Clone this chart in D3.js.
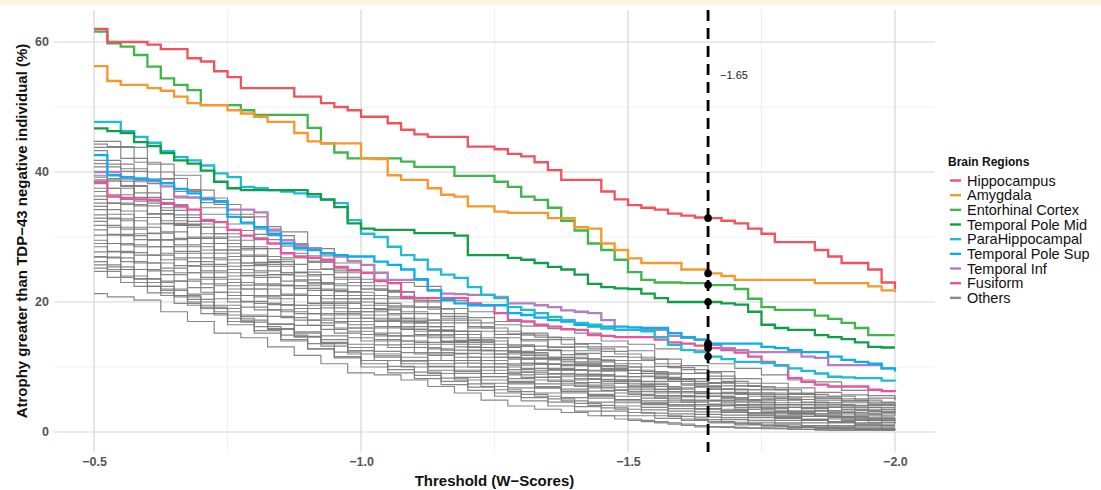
<!DOCTYPE html>
<html>
<head>
<meta charset="utf-8">
<script src="https://cdn.jsdelivr.net/npm/d3@7"></script>
<style>
  body { margin: 0; background: #fff; }
  svg { display: block; font-family: "Liberation Sans", Arial, sans-serif; }
</style>
</head>
<body>
<script>
// Threshold grid (W-scores) for the named regions
const thresholds = [
  -0.5, -0.525, -0.55, -0.575, -0.6, -0.625, -0.65, -0.675, -0.7, -0.725,
  -0.75, -0.775, -0.8, -0.825, -0.85, -0.875, -0.9, -0.925, -0.95, -0.975,
  -1.0, -1.025, -1.05, -1.075, -1.1, -1.125, -1.15, -1.175, -1.2, -1.225,
  -1.25, -1.275, -1.3, -1.325, -1.35, -1.375, -1.4, -1.425, -1.45, -1.475,
  -1.5, -1.525, -1.55, -1.575, -1.6, -1.625, -1.65, -1.675, -1.7, -1.725,
  -1.75, -1.775, -1.8, -1.825, -1.85, -1.875, -1.9, -1.925, -1.95, -1.975, -2.0
];

// Atrophy (%) per region at each threshold
const hippocampus = [62, 60, 60, 60, 59.6, 58.9, 58.9, 57.5, 57, 55.5, 54.6, 52.9, 52.9, 52.9, 52.9, 51.6, 51.6, 50.6, 50, 49.5, 48.5, 48.5, 47.5, 46.5, 45.8, 45.4, 45.4, 45.4, 43.9, 43.9, 43.5, 42.8, 42.4, 41.5, 40.3, 38.8, 38.8, 38.8, 37, 35.8, 34.9, 34.5, 34.2, 33.6, 33.3, 33, 32.9, 32.5, 32.1, 31.3, 30.5, 29.2, 29.2, 29.2, 28, 27, 26, 26, 25, 23, 22];
const amygdala = [56.3, 54, 53.4, 53.4, 52.9, 52.5, 51.6, 50.6, 50.3, 50.3, 49.5, 49, 48.5, 47.7, 47.7, 46, 44.7, 44.4, 44.4, 44.4, 42.1, 42, 39.5, 38.8, 38.8, 37.5, 36.5, 36.2, 34.7, 34.7, 33.9, 33.7, 33.7, 33.7, 32.9, 32.9, 31.5, 31.3, 29, 28, 26.7, 26, 26, 26, 25, 25, 24.4, 24, 23.4, 23.4, 23.4, 23.4, 23.4, 23.4, 22.9, 22.9, 22.9, 22.9, 22.4, 21.8, 21.5];
const entorhinal = [61.6, 59.8, 59.3, 58, 56.2, 54.4, 53.4, 52.6, 50.3, 50.3, 50.3, 49.5, 48.8, 48.8, 48.8, 48.8, 46.8, 44.4, 43, 42.1, 42.1, 42.1, 42.1, 41.6, 40.8, 40.8, 40.8, 39.4, 39.4, 39.4, 38.5, 37.7, 36.2, 35.7, 34.5, 32.5, 31, 29, 28, 26.5, 24.6, 23.4, 23, 23, 22.9, 22.9, 22.6, 22.6, 22, 20.5, 19.2, 18.8, 18.8, 18.8, 17.9, 17.4, 16.8, 16, 14.9, 14.9, 14.9];
const temporalPoleMid = [46.7, 46.3, 46, 44.6, 44, 42.9, 41.8, 41.3, 40.2, 38.5, 37.5, 37.2, 37.2, 37.2, 37.2, 37.2, 36.6, 35.8, 34.6, 32.1, 31.3, 31.1, 31.1, 31.1, 30.6, 30.6, 30.6, 30.2, 27.2, 27.2, 27.2, 26.8, 26.5, 26, 25.4, 25, 24.2, 22.8, 22.3, 22.1, 22, 21.3, 20.6, 20, 20, 20, 20, 19.8, 19.6, 18.5, 16.5, 16, 15.7, 15.7, 14.9, 14.6, 14.3, 13.8, 13.1, 13, 13];
const paraHippocampal = [47.7, 47.7, 46.3, 45.4, 44.5, 43.2, 42.3, 41.8, 41, 39.8, 39.2, 37.7, 37.5, 37.2, 37, 36.7, 36.2, 35.7, 35.2, 32.6, 30.5, 30, 28.5, 27.2, 26.5, 25, 24.2, 23.7, 22.3, 21.1, 20.6, 19.2, 18.8, 18.3, 17.7, 17.2, 16.8, 16.5, 15.9, 15.7, 15.7, 15.5, 14.6, 13.4, 12.6, 12.3, 11.6, 11.2, 10.8, 10.8, 10.6, 10.2, 9.8, 9.4, 9, 8.5, 8.4, 8.3, 8.3, 7.9, 7.8];
const temporalPoleSup = [42.6, 39.5, 39.2, 39, 38.8, 38.3, 37.4, 36.7, 35.8, 35.5, 33.1, 32.2, 31.5, 30.5, 29, 28.3, 28, 27.5, 27.2, 27, 27, 26.2, 25.7, 25, 23.5, 21.8, 20.3, 19.8, 19.5, 19.5, 19.5, 18.3, 18, 17.6, 17.2, 17, 16.5, 16.2, 16.2, 16.2, 16.1, 16, 16, 15.2, 14.6, 14.2, 13.6, 13.6, 13.6, 13.6, 13.1, 12.9, 12.6, 12.3, 12.3, 11.6, 11.1, 10.8, 10.5, 9.8, 9.3];
const temporalInf = [40, 40, 39, 38.8, 38.6, 37.8, 36.2, 36.1, 36, 35.4, 34.2, 34.2, 33.8, 31, 29.5, 28.8, 28.3, 27.5, 27, 26.3, 25.7, 24.5, 23.4, 23.4, 23.4, 21.8, 21.3, 21.2, 21.1, 21.1, 20.8, 19.8, 19.8, 19.5, 19.2, 18.7, 18.5, 18.3, 17.2, 15.7, 15.7, 15.7, 15.7, 14.8, 14.5, 14.2, 13.4, 12.9, 12.6, 12.3, 12.3, 12.3, 12.3, 11.6, 11.4, 10.3, 10.3, 10.3, 10.3, 9.8, 9.8];
const fusiform = [38.5, 36.2, 36, 35.8, 35.7, 35.2, 34.8, 34.2, 32.6, 32.3, 31.1, 30.2, 29.8, 29, 27.5, 27, 26.8, 26.5, 25.4, 24.9, 24.5, 23.2, 22.9, 20.8, 20.6, 20.6, 20.6, 20.6, 19.8, 19.5, 18.3, 17.2, 17, 16.5, 16.2, 15.8, 15.7, 14.9, 14.8, 14.6, 14.6, 14.6, 14.2, 13.8, 13.6, 13.3, 12.9, 12.6, 12.2, 11.6, 10.8, 10.3, 8.3, 7.7, 7.3, 7, 7, 7, 6.5, 6.3, 6.2];

const regionNames = ['Hippocampus', 'Amygdala', 'Entorhinal Cortex', 'Temporal Pole Mid',
  'ParaHippocampal', 'Temporal Pole Sup', 'Temporal Inf', 'Fusiform'];
const regionValues = [hippocampus, amygdala, entorhinal, temporalPoleMid,
  paraHippocampal, temporalPoleSup, temporalInf, fusiform];
const regionColors = ['#f0535d', '#f8982a', '#3fb54b', '#109f48',
  '#1ebbd2', '#08aeee', '#b37fc1', '#e6559f'];

// Coarser grid for the remaining regions
const othersThresholds = [
  -0.5, -0.55, -0.6, -0.65, -0.7, -0.75, -0.8, -0.85, -0.9, -0.95, -1.0,
  -1.05, -1.1, -1.15, -1.2, -1.25, -1.3, -1.35, -1.4, -1.45, -1.5,
  -1.55, -1.6, -1.65, -1.7, -1.75, -1.8, -1.85, -1.9, -1.95, -2.0
];
const othersValues = [
  [44.7,43.8,41.2,39.5,36.0,33.0,31.6,30.8,28.2,26.0,24.5,23.0,22.4,20.2,18.5,17.0,16.3,15.9,15.2,14.0,13.5,12.8,12.6,10.5,9.8,8.8,8.0,7.7,6.4,5.6,5.0],
  [44.3,43.9,41.5,39.0,37.2,35.0,33.1,30.2,28.0,25.1,23.0,21.8,20.5,18.9,17.2,16.0,15.1,14.6,13.5,12.8,12.0,11.2,9.9,9.1,7.8,7.0,6.5,5.8,5.5,4.9,4.5],
  [43.8,42.1,40.0,37.3,34.5,32.0,30.4,28.6,26.3,23.8,22.0,20.5,19.2,17.8,16.0,15.0,14.2,13.1,12.5,11.6,11.0,10.1,9.0,8.2,7.1,6.5,5.9,5.2,4.8,4.3,4.0],
  [43.3,41.2,38.5,35.0,32.4,30.0,28.5,26.2,24.6,22.8,21.5,19.8,18.5,17.2,15.5,14.5,13.4,12.6,11.5,10.8,10.0,9.3,8.2,7.5,6.6,6.0,5.2,4.6,4.2,3.8,3.5],
  [41.8,40.5,38.2,36.0,33.5,31.0,29.6,27.5,26.1,24.8,23.5,21.6,20.0,18.2,16.8,15.5,14.9,14.2,13.6,13.1,12.5,11.2,10.2,9.3,8.2,7.5,6.8,6.1,5.7,5.2,4.9],
  [41.3,39.0,36.8,34.1,31.5,29.0,27.2,25.5,23.4,22.0,20.5,18.9,17.0,15.6,14.1,13.0,12.4,11.5,10.8,10.1,9.5,8.6,7.8,6.9,6.1,5.5,4.9,4.2,3.8,3.3,3.0],
  [40.8,40.1,38.9,37.0,35.3,33.5,31.2,29.0,27.1,24.5,22.5,21.5,20.2,19.0,17.6,16.5,15.2,14.5,13.1,12.4,11.5,10.5,9.6,8.6,7.5,6.8,6.0,5.5,5.1,4.6,4.3],
  [40.0,38.6,36.1,34.5,32.0,30.5,28.2,26.5,24.0,21.8,20.0,18.8,17.5,16.2,15.0,14.0,13.2,12.6,11.9,11.1,10.5,9.0,8.1,7.0,5.9,5.0,4.2,3.7,3.2,2.8,2.5],
  [39.5,37.8,35.2,33.0,30.5,28.5,27.0,25.8,24.2,22.5,21.0,19.2,17.2,15.5,13.8,12.5,11.8,11.1,10.4,9.6,9.0,8.4,7.8,7.1,6.5,6.0,5.4,4.9,4.5,4.1,3.8],
  [39.2,37.5,35.5,32.5,29.8,27.5,25.6,24.2,22.5,20.5,19.0,18.0,16.8,15.7,14.5,13.5,12.2,11.3,10.2,9.4,8.5,7.5,6.8,6.0,5.2,4.5,3.8,3.2,2.8,2.3,2.0],
  [38.8,37.9,35.8,33.4,31.5,29.5,28.2,26.8,25.0,23.5,22.0,20.8,19.2,17.5,16.2,15.0,14.0,13.0,12.1,11.0,10.0,9.1,8.2,7.5,6.5,5.8,5.0,4.5,4.0,3.5,3.2],
  [38.2,36.5,34.8,32.1,30.0,28.0,26.0,24.2,22.1,20.0,18.5,17.2,15.8,14.5,13.1,12.0,11.2,10.4,9.5,8.8,8.0,7.0,6.2,5.5,4.6,4.0,3.2,2.8,2.4,2.0,1.8],
  [37.5,35.8,33.6,31.8,29.0,27.0,25.8,24.5,23.0,21.6,20.5,19.4,18.2,16.8,15.5,14.5,13.2,12.5,11.3,10.2,9.5,8.9,8.2,7.6,7.1,6.5,5.8,5.2,4.8,4.3,4.0],
  [37.0,35.2,33.0,30.8,28.5,26.5,24.5,22.6,21.0,19.1,17.5,16.2,14.8,13.5,12.1,11.0,10.3,9.5,8.8,8.1,7.5,6.5,5.6,4.8,4.1,3.5,2.9,2.4,2.0,1.8,1.5],
  [36.3,35.0,33.5,31.9,29.8,28.0,26.1,24.5,22.8,21.0,19.5,18.2,16.8,15.5,14.2,13.0,12.2,11.5,10.6,9.8,9.0,8.2,7.4,6.6,5.8,5.2,4.5,4.0,3.5,3.1,2.8],
  [35.8,33.5,31.5,29.6,27.5,25.5,24.1,22.5,21.0,19.5,18.0,17.0,15.8,14.8,13.5,12.5,11.4,10.5,9.6,8.8,8.0,7.3,6.6,5.9,5.3,4.8,4.2,3.6,3.0,2.6,2.3],
  [35.2,34.0,32.0,29.8,28.0,26.0,24.8,23.2,21.8,20.5,19.0,17.2,15.5,14.0,12.6,11.5,10.5,9.6,8.6,7.8,7.0,6.2,5.5,4.9,4.2,3.8,3.0,2.4,1.8,1.5,1.2],
  [34.7,32.8,30.5,28.5,26.2,24.5,22.6,21.0,19.5,18.0,16.5,15.2,14.0,12.8,11.5,10.5,9.6,8.9,8.0,7.2,6.5,5.6,4.9,4.2,3.5,3.0,2.4,2.0,1.6,1.2,1.0],
  [34.2,32.5,30.6,28.8,26.8,25.0,23.8,22.5,21.0,19.8,18.5,17.5,16.2,15.0,14.0,13.0,12.0,11.2,10.2,9.4,8.5,7.8,7.2,6.6,6.0,5.5,5.0,4.5,4.1,3.8,3.5],
  [33.4,31.5,29.6,27.5,25.5,23.5,22.0,20.5,19.0,17.5,16.0,14.8,13.5,12.2,11.0,10.0,9.2,8.4,7.5,6.8,6.0,5.2,4.6,4.0,3.3,2.8,2.2,1.8,1.4,1.0,0.8],
  [32.9,31.2,29.5,27.8,25.8,24.0,22.8,21.2,19.8,18.2,17.0,16.0,15.0,13.9,13.0,12.0,11.2,10.4,9.5,8.6,7.8,7.0,6.2,5.5,4.8,4.2,3.8,3.3,3.0,2.8,2.5],
  [32.4,30.4,28.5,26.5,24.5,22.5,21.0,19.6,18.2,16.8,15.5,14.2,13.0,11.8,10.6,9.5,8.8,8.0,7.2,6.3,5.5,4.8,4.2,3.6,3.0,2.5,2.1,1.8,1.5,1.2,1.0],
  [31.8,30.2,28.5,26.8,24.8,23.0,22.0,21.0,19.8,18.5,17.5,16.2,15.0,13.8,12.5,11.5,10.6,9.8,8.9,8.0,7.2,6.6,6.0,5.5,5.0,4.5,4.2,3.8,3.5,3.2,3.0],
  [31.1,29.0,27.2,25.2,23.5,21.5,20.1,18.8,17.2,15.8,14.5,13.4,12.2,11.0,10.0,9.0,8.2,7.4,6.6,5.8,5.0,4.2,3.6,3.1,2.6,2.2,1.8,1.4,1.0,0.8,0.6],
  [30.3,28.8,27.2,25.6,23.8,22.0,20.8,19.5,18.2,17.0,16.0,14.8,13.8,12.6,11.5,10.5,9.8,9.0,8.2,7.5,6.8,6.0,5.4,4.8,4.2,3.6,3.2,2.8,2.4,2.0,1.8],
  [29.5,27.8,26.0,24.2,22.2,20.5,19.2,17.8,16.4,14.8,13.5,12.4,11.5,10.5,9.5,8.5,7.6,6.8,6.0,5.2,4.5,3.8,3.2,2.7,2.2,1.8,1.4,1.0,0.8,0.6,0.5],
  [29.0,27.6,26.0,24.5,22.8,21.0,19.8,18.5,17.2,16.0,15.0,14.0,13.0,12.0,11.0,10.0,9.2,8.5,7.6,6.9,6.2,5.5,4.9,4.3,3.8,3.2,2.8,2.4,2.0,1.8,1.5],
  [28.5,26.8,25.0,23.2,21.2,19.5,18.0,16.6,15.2,13.8,12.5,11.5,10.5,9.5,8.4,7.5,6.8,6.0,5.3,4.6,4.0,3.4,2.8,2.3,1.9,1.5,1.2,0.9,0.7,0.5,0.4],
  [27.7,26.2,24.8,23.2,21.5,20.0,18.8,17.6,16.4,15.2,14.0,13.0,12.0,11.0,10.0,9.0,8.4,7.8,7.0,6.4,5.8,5.2,4.6,4.0,3.5,3.0,2.8,2.5,2.3,2.1,2.0],
  [27.0,25.4,23.6,21.8,20.0,18.5,17.2,15.9,14.6,13.2,12.0,11.0,10.0,9.0,8.0,7.0,6.2,5.5,4.8,4.1,3.5,2.9,2.4,1.9,1.5,1.2,0.9,0.7,0.5,0.4,0.3],
  [26.9,25.0,23.0,21.0,19.0,17.0,15.6,14.2,12.8,11.4,10.0,9.1,8.2,7.3,6.4,5.5,4.8,4.0,3.2,2.5,1.8,1.4,1.0,0.8,0.6,0.5,0.4,0.3,0.3,0.3,0.3],
  [26.2,25.0,23.5,22.0,20.4,19.0,17.8,16.6,15.4,14.2,13.0,12.0,11.0,10.0,9.0,8.0,7.4,6.8,6.2,5.6,5.0,4.5,4.0,3.5,3.0,2.5,2.2,1.9,1.6,1.4,1.2],
  [25.7,24.0,22.4,20.8,19.2,17.5,16.2,14.9,13.6,12.3,11.0,10.1,9.2,8.3,7.4,6.5,5.8,5.1,4.4,3.7,3.0,2.5,2.0,1.6,1.3,1.0,0.8,0.6,0.5,0.4,0.3],
  [25.2,23.8,22.4,21.0,19.5,18.0,16.9,15.8,14.7,13.6,12.5,11.7,10.9,10.1,9.3,8.5,7.8,7.0,6.3,5.5,4.8,4.4,4.0,3.6,3.2,2.8,2.6,2.4,2.2,2.0,1.8],
  [24.7,23.0,21.4,19.8,18.2,16.5,15.2,14.0,12.8,11.6,10.5,9.6,8.7,7.8,6.9,6.0,5.3,4.6,3.9,3.2,2.5,2.1,1.8,1.4,1.1,0.8,0.7,0.6,0.5,0.4,0.3],
  [21.3,20.8,20.3,18.5,17.0,15.2,14.5,13.1,11.8,10.5,9.1,8.8,8.0,7.0,6.0,4.9,4.0,3.5,3.0,2.5,2.0,1.6,1.2,0.8,0.7,0.6,0.5,0.4,0.3,0.3,0.3]
];

// Axis ticks and cut-off
const xMajorTicks = [-0.5, -1.0, -1.5, -2.0];
const xMinorTicks = [-0.75, -1.25, -1.75];
const yMajorTicks = [0, 20, 40, 60];
const yMinorTicks = [10, 30, 50];
const cutoff = -1.65;

// SVG canvas
const width = 1101;
const height = 490;
const panel = { left: 54, right: 935, top: 10, bottom: 452 };

const svg = d3.select('body')
  .append('svg')
    .attr('width', width)
    .attr('height', height);

// Pale strip along the top edge
svg.append('rect')
    .attr('x', 0)
    .attr('y', 0)
    .attr('width', width)
    .attr('height', 5)
    .attr('fill', '#fdf6df');

const x = d3.scaleLinear()
  .domain([-0.425, -2.075])
  .range([panel.left, panel.right]);

const y = d3.scaleLinear()
  .domain([-3.08, 64.92])
  .range([panel.bottom, panel.top]);

// Grid
const grid = svg.append('g');

grid.selectAll('.xminor')
    .data(xMinorTicks)
  .enter().append('line')
    .attr('x1', (d) => x(d))
    .attr('x2', (d) => x(d))
    .attr('y1', panel.top)
    .attr('y2', panel.bottom)
    .attr('stroke', '#ebebeb')
    .attr('stroke-width', 0.8);

grid.selectAll('.yminor')
    .data(yMinorTicks)
  .enter().append('line')
    .attr('x1', panel.left)
    .attr('x2', panel.right)
    .attr('y1', (d) => y(d))
    .attr('y2', (d) => y(d))
    .attr('stroke', '#ebebeb')
    .attr('stroke-width', 0.8);

grid.selectAll('.xmajor')
    .data(xMajorTicks)
  .enter().append('line')
    .attr('x1', (d) => x(d))
    .attr('x2', (d) => x(d))
    .attr('y1', panel.top)
    .attr('y2', panel.bottom)
    .attr('stroke', '#d6d6d6')
    .attr('stroke-width', 1.2);

grid.selectAll('.ymajor')
    .data(yMajorTicks)
  .enter().append('line')
    .attr('x1', panel.left)
    .attr('x2', panel.right)
    .attr('y1', (d) => y(d))
    .attr('y2', (d) => y(d))
    .attr('stroke', '#d6d6d6')
    .attr('stroke-width', 1.2);

// Line generators
const stepLine = d3.line()
  .x((d) => x(d.t))
  .y((d) => y(d.v))
  .curve(d3.curveStepAfter);

// Others alternate step placement so the risers don't line up in columns
const othersCurves = [d3.curveStepAfter, d3.curveStep];

svg.append('g')
  .selectAll('path')
    .data(othersValues)
  .enter().append('path')
    .attr('d', (vals, k) => d3.line()
      .x((d) => x(d.t))
      .y((d) => y(d.v))
      .curve(othersCurves[k % 2])(vals.map((v, i) => ({ t: othersThresholds[i], v: v }))))
    .attr('fill', 'none')
    .attr('stroke', '#7a7a7a')
    .attr('stroke-width', 1.2)
    .attr('stroke-opacity', 0.9);

// Named regions
const regions = regionNames.map((name, k) => ({
  name: name,
  color: regionColors[k],
  values: regionValues[k].map((v, i) => ({ t: thresholds[i], v: v }))
}));

svg.append('g')
  .selectAll('path')
    .data(regions.slice().reverse())
  .enter().append('path')
    .attr('d', (d) => stepLine(d.values))
    .attr('fill', 'none')
    .attr('stroke', (d) => d.color)
    .attr('stroke-width', 2.3);

// Cut-off line
svg.append('line')
    .attr('x1', x(cutoff))
    .attr('x2', x(cutoff))
    .attr('y1', panel.top)
    .attr('y2', panel.bottom)
    .attr('stroke', '#000')
    .attr('stroke-width', 2.8)
    .attr('stroke-dasharray', '11,7');

const cutIndex = thresholds.findIndex((t) => Math.abs(t - cutoff) < 1e-9);

svg.append('g')
  .selectAll('circle')
    .data(regions)
  .enter().append('circle')
    .attr('cx', x(cutoff))
    .attr('cy', (d) => y(d.values[cutIndex].v))
    .attr('r', 3.8)
    .attr('fill', '#000');

svg.append('text')
    .attr('x', x(cutoff) + 12)
    .attr('y', 78.5)
    .attr('font-size', 11)
    .attr('fill', '#222')
    .text(d3.format('.2f')(cutoff));

// Axes (labels only)
const xAxis = svg.append('g')
    .attr('transform', `translate(0, ${panel.bottom})`)
    .call(d3.axisBottom(x)
      .tickValues(xMajorTicks)
      .tickFormat(d3.format('.1f'))
      .tickSize(0)
      .tickPadding(5));

const yAxis = svg.append('g')
    .attr('transform', `translate(${panel.left}, 0)`)
    .call(d3.axisLeft(y)
      .tickValues(yMajorTicks)
      .tickFormat(d3.format('d'))
      .tickSize(0)
      .tickPadding(5));

[xAxis, yAxis].forEach((g) => {
  g.select('.domain').remove();
  g.selectAll('text')
      .attr('font-family', '"Liberation Sans", Arial, sans-serif')
      .attr('font-size', 12.5)
      .attr('font-weight', 'bold')
      .attr('fill', '#555');
});

// Axis titles
svg.append('text')
    .attr('x', (panel.left + panel.right) / 2)
    .attr('y', 486)
    .attr('text-anchor', 'middle')
    .attr('font-size', 15)
    .attr('font-weight', 'bold')
    .attr('fill', '#111')
    .text('Threshold (W\u2212Scores)');

svg.append('text')
    .attr('transform', `translate(27, ${(panel.top + panel.bottom) / 2}) rotate(-90)`)
    .attr('text-anchor', 'middle')
    .attr('font-size', 15)
    .attr('font-weight', 'bold')
    .attr('fill', '#111')
    .text('Atrophy greater than TDP\u221243 negative individual (%)');

// Legend
const legend = svg.append('g')
    .attr('transform', 'translate(948, 166)');

legend.append('text')
    .attr('x', 0)
    .attr('y', 0)
    .attr('font-size', 12)
    .attr('font-weight', 'bold')
    .attr('fill', '#111')
    .text('Brain Regions');

const legendItems = regions.map((d) => ({ name: d.name, color: d.color }))
  .concat([{ name: 'Others', color: '#8a8a8a' }]);

const items = legend.selectAll('.item')
    .data(legendItems)
  .enter().append('g')
    .attr('transform', (d, i) => `translate(0, ${14.5 + i * 14.67})`);

items.append('line')
    .attr('x1', 2)
    .attr('x2', 13)
    .attr('y1', 0)
    .attr('y2', 0)
    .attr('stroke', (d) => d.color)
    .attr('stroke-width', 2.4);

items.append('text')
    .attr('x', 19)
    .attr('y', 5)
    .attr('font-size', 14.5)
    .attr('fill', '#111')
    .text((d) => d.name);
</script>
</body>
</html>
